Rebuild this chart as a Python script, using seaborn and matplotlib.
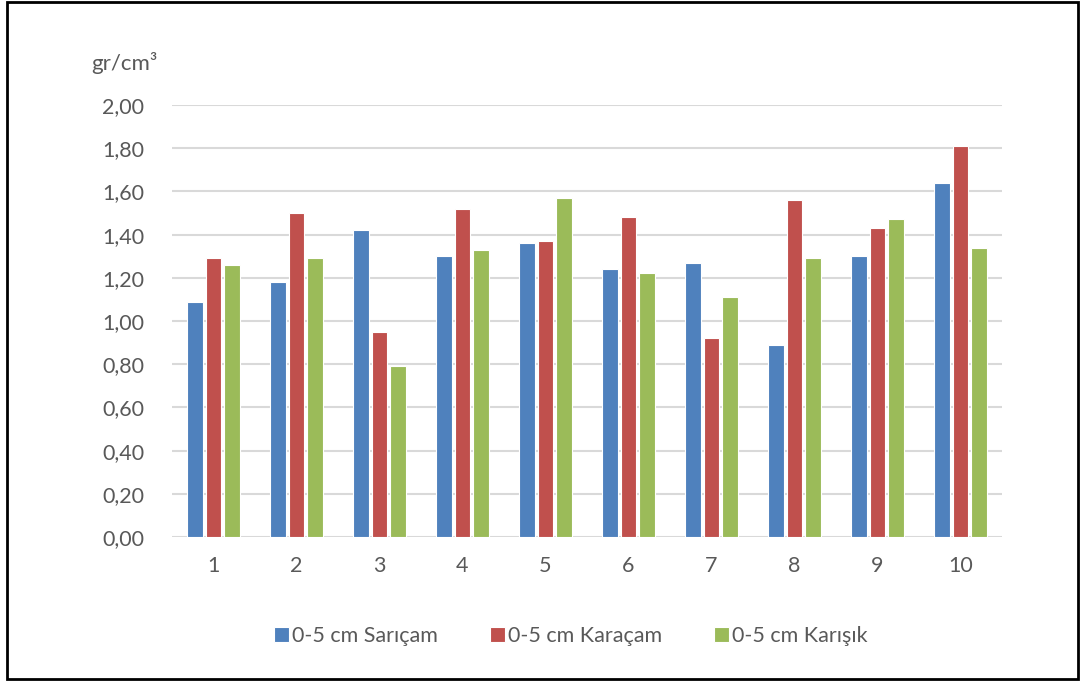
import numpy as np
import pandas as pd
import matplotlib
matplotlib.use("Agg")
import matplotlib.pyplot as plt
import seaborn as sns
from matplotlib.patches import Rectangle

categories = ["1", "2", "3", "4", "5", "6", "7", "8", "9", "10"]
series_names = ["0-5 cm Sarıçam", "0-5 cm Karaçam", "0-5 cm Karışık"]
saricam = [1.09, 1.18, 1.42, 1.30, 1.36, 1.24, 1.27, 0.89, 1.30, 1.64]
karacam = [1.29, 1.50, 0.95, 1.52, 1.37, 1.48, 0.92, 1.56, 1.43, 1.81]
karisik = [1.26, 1.29, 0.79, 1.33, 1.57, 1.22, 1.11, 1.29, 1.47, 1.34]
yticks = [0.0, 0.2, 0.4, 0.6, 0.8, 1.0, 1.2, 1.4, 1.6, 1.8, 2.0]
colors = ["#4F81BD", "#C0504D", "#9BBB59"]

rows = []
for name, vals in zip(series_names, [saricam, karacam, karisik]):
    for c, v in zip(categories, vals):
        rows.append({"cat": c, "series": name, "value": v})
df = pd.DataFrame(rows)

sns.set_theme(style="white")
plt.rcParams["font.family"] = ["Lato", "DejaVu Sans"]
text_color = "#595959"
fs = 15.5

fig = plt.figure(figsize=(10.83, 6.81), dpi=100)
ax = fig.add_axes([172/1083, 1-537/681, 830/1083, 432/681])

sns.barplot(data=df, x="cat", y="value", hue="series", order=categories,
            hue_order=series_names, palette=colors, width=0.66, gap=0.15,
            edgecolor="white", linewidth=0.8, ax=ax, legend=True, errorbar=None,
            saturation=1)

ax.set_ylim(0, 2.0)
ax.set_xlim(-0.5, 9.5)
ax.set_yticks(yticks)
ax.set_yticklabels([f"{t:.2f}".replace(".", ",") for t in yticks])
ax.yaxis.grid(True, color="#D9D9D9", linewidth=1.5)
ax.set_axisbelow(True)
for s in ax.spines.values():
    s.set_visible(False)
ax.tick_params(axis="both", length=0, labelsize=fs, labelcolor=text_color)
ax.tick_params(axis="y", pad=20)
ax.tick_params(axis="x", pad=14)
ax.set_xlabel("")
ax.set_ylabel("")

fig.text(124/1083, 1-63/681, "gr/cm³", ha="center", va="center",
         fontsize=fs + 0.5, color=text_color)

handles, labels = ax.get_legend_handles_labels()
ax.get_legend().remove()
leg = fig.legend(handles, labels, loc="center", bbox_to_anchor=(0.527, 1-636/681),
                 ncol=3, frameon=False, fontsize=fs, handlelength=0.7,
                 handleheight=0.7, handletextpad=0.15, columnspacing=2.4)
for t in leg.get_texts():
    t.set_color(text_color)

fig.patches.append(Rectangle((7/1083, 2/681), 1071/1083, 677/681,
                             transform=fig.transFigure, fill=False,
                             edgecolor="black", linewidth=2, zorder=10))

fig.savefig("out.png", dpi=100, facecolor="white")
